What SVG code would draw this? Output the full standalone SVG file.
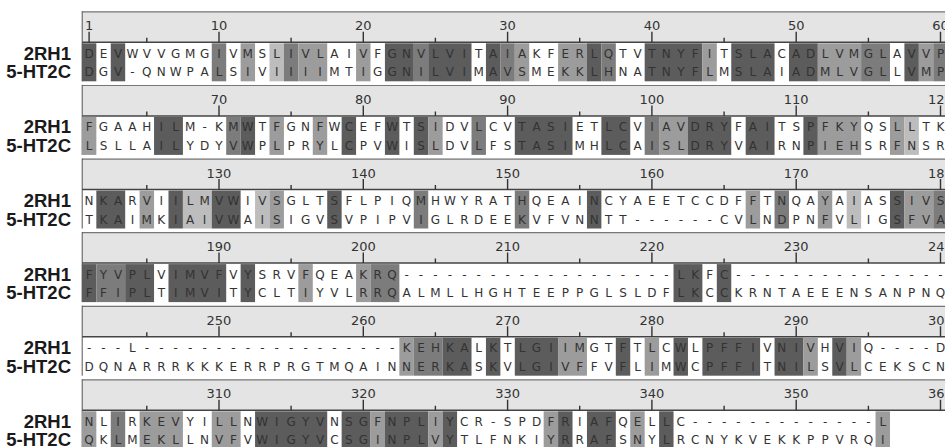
<svg xmlns="http://www.w3.org/2000/svg" xmlns:xlink="http://www.w3.org/1999/xlink" width="945" height="447" viewBox="0 0 945 447">
<style>
.rl{fill:#e4e4e4}
.rt{stroke:#777;stroke-width:1.2}
.rb{stroke:#444;stroke-width:1.5}
.fr{stroke:#555;stroke-width:1}
.tk{stroke:#333;stroke-width:1.4;fill:none}
.num{font-family:"DejaVu Sans",sans-serif;font-size:13px;fill:#333;text-anchor:middle}
.seq{font-family:"DejaVu Sans",sans-serif;font-size:12px;fill:#333;text-anchor:middle}
.lab{font-family:"Liberation Sans",Arial,sans-serif;font-size:18.5px;font-weight:bold;fill:#1a1a1a;text-anchor:end}
.d{fill:#5c5c5c}.m{fill:#7c7c7c}.g{fill:#9c9c9c}.l{fill:#bdbdbd}
</style>
<defs>
<g id="ruler">
<rect class="rl" x="82" y="0" width="863" height="31"/>
<line class="rt" x1="82" y1="0.6" x2="945" y2="0.6"/>
<line class="rb" x1="82" y1="31" x2="945" y2="31"/>
<line class="fr" x1="82.2" y1="0" x2="82.2" y2="70"/>
<path class="tk" d="M219,20.5V31M363.3,20.5V31M507.6,20.5V31M651.9,20.5V31M796.2,20.5V31M940.5,20.5V31M146.8,26.5V31M291.1,26.5V31M435.4,26.5V31M579.7,26.5V31M724.1,26.5V31M868.4,26.5V31"/>
<text class="lab" x="71" y="48.6">2RH1</text>
<text class="lab" x="71" y="67.1">5-HT2C</text>
</g>
</defs>

<g id="block1" transform="translate(0,11.3)">
<use xlink:href="#ruler"/>
<path class="tk" d="M89.1,20.5V31"/>
<g class="num"><text x="89.1" y="19">1</text><text x="219" y="19">10</text><text x="363.3" y="19">20</text><text x="507.6" y="19">30</text><text x="651.9" y="19">40</text><text x="796.2" y="19">50</text><text x="940.5" y="19">60</text></g>
<g transform="translate(0,32)">
<rect class="d" x="81.9" width="14.43" height="38"/>
<rect class="d" x="110.76" width="14.43" height="38"/>
<rect class="m" x="211.77" width="14.43" height="38"/>
<rect class="g" x="240.63" width="14.43" height="38"/>
<rect class="l" x="269.49" width="14.43" height="38"/>
<rect class="m" x="283.92" width="14.43" height="38"/>
<rect class="g" x="298.35" width="28.86" height="38"/>
<rect class="g" x="356.07" width="14.43" height="38"/>
<rect class="d" x="384.93" width="28.86" height="38"/>
<rect class="m" x="413.79" width="14.43" height="38"/>
<rect class="d" x="428.22" width="43.29" height="38"/>
<rect class="d" x="485.94" width="14.43" height="38"/>
<rect class="m" x="500.37" width="14.43" height="38"/>
<rect class="g" x="514.8" width="14.43" height="38"/>
<rect class="g" x="558.09" width="28.86" height="38"/>
<rect class="d" x="586.95" width="14.43" height="38"/>
<rect class="m" x="601.38" width="14.43" height="38"/>
<rect class="d" x="644.67" width="57.72" height="38"/>
<rect class="g" x="702.39" width="14.43" height="38"/>
<rect class="d" x="731.25" width="43.29" height="38"/>
<rect class="d" x="788.97" width="28.86" height="38"/>
<rect class="g" x="817.83" width="43.29" height="38"/>
<rect class="m" x="861.12" width="28.86" height="38"/>
<rect class="d" x="904.41" width="14.43" height="38"/>
<rect class="g" x="918.84" width="14.43" height="38"/>
<rect class="m" x="933.27" width="14.43" height="38"/>
</g>
<g class="seq">
<text y="46.6" x="89.1 103.5 118 132.4 146.8 161.3 175.7 190.1 204.6 219 233.4 247.8 262.3 276.7 291.1 305.6 320 334.4 348.9 363.3 377.7 392.1 406.6 421 435.4 449.9 464.3 478.7 493.2 507.6 522 536.5 550.9 565.3 579.7 594.2 608.6 623 637.5 651.9 666.3 680.8 695.2 709.6 724.1 738.5 752.9 767.3 781.8 796.2 810.6 825.1 839.5 853.9 868.4 882.8 897.2 911.7 926.1 940.5">DEVWVVGMGIVMSLIVLAIVFGNVLVITAIAKFERLQTVTNYFITSLACADLVMGLAVVP</text>
<text y="65.1" x="89.1 103.5 118 132.4 146.8 161.3 175.7 190.1 204.6 219 233.4 247.8 262.3 276.7 291.1 305.6 320 334.4 348.9 363.3 377.7 392.1 406.6 421 435.4 449.9 464.3 478.7 493.2 507.6 522 536.5 550.9 565.3 579.7 594.2 608.6 623 637.5 651.9 666.3 680.8 695.2 709.6 724.1 738.5 752.9 767.3 781.8 796.2 810.6 825.1 839.5 853.9 868.4 882.8 897.2 911.7 926.1 940.5">DGV-QNWPALSIVIIIIMTIGGNILVIMAVSMEKKLHNATNYFLMSLAIADMLVGLLVMP</text>
</g>
</g>

<g id="block2" transform="translate(0,84.9)">
<use xlink:href="#ruler"/>
<g class="num"><text x="219" y="19">70</text><text x="363.3" y="19">80</text><text x="507.6" y="19">90</text><text x="651.9" y="19">100</text><text x="796.2" y="19">110</text><text x="940.5" y="19">120</text></g>
<g transform="translate(0,32)">
<rect class="g" x="81.9" width="14.43" height="38"/>
<rect class="d" x="154.05" width="28.86" height="38"/>
<rect class="m" x="226.2" width="14.43" height="38"/>
<rect class="d" x="240.63" width="14.43" height="38"/>
<rect class="g" x="269.49" width="14.43" height="38"/>
<rect class="g" x="312.78" width="14.43" height="38"/>
<rect class="d" x="341.64" width="14.43" height="38"/>
<rect class="d" x="384.93" width="14.43" height="38"/>
<rect class="d" x="413.79" width="14.43" height="38"/>
<rect class="g" x="428.22" width="14.43" height="38"/>
<rect class="m" x="471.51" width="14.43" height="38"/>
<rect class="d" x="514.8" width="57.72" height="38"/>
<rect class="d" x="601.38" width="28.86" height="38"/>
<rect class="m" x="644.67" width="14.43" height="38"/>
<rect class="g" x="659.1" width="28.86" height="38"/>
<rect class="d" x="687.96" width="43.29" height="38"/>
<rect class="d" x="745.68" width="28.86" height="38"/>
<rect class="d" x="803.4" width="14.43" height="38"/>
<rect class="g" x="817.83" width="43.29" height="38"/>
<rect class="g" x="889.98" width="14.43" height="38"/>
<rect class="l" x="904.41" width="14.43" height="38"/>
</g>
<g class="seq">
<text y="46.6" x="89.1 103.5 118 132.4 146.8 161.3 175.7 190.1 204.6 219 233.4 247.8 262.3 276.7 291.1 305.6 320 334.4 348.9 363.3 377.7 392.1 406.6 421 435.4 449.9 464.3 478.7 493.2 507.6 522 536.5 550.9 565.3 579.7 594.2 608.6 623 637.5 651.9 666.3 680.8 695.2 709.6 724.1 738.5 752.9 767.3 781.8 796.2 810.6 825.1 839.5 853.9 868.4 882.8 897.2 911.7 926.1 940.5">FGAAHILM-KMWTFGNFWCEFWTSIDVLCVTASIETLCVIAVDRYFAITSPFKYQSLLTK</text>
<text y="65.1" x="89.1 103.5 118 132.4 146.8 161.3 175.7 190.1 204.6 219 233.4 247.8 262.3 276.7 291.1 305.6 320 334.4 348.9 363.3 377.7 392.1 406.6 421 435.4 449.9 464.3 478.7 493.2 507.6 522 536.5 550.9 565.3 579.7 594.2 608.6 623 637.5 651.9 666.3 680.8 695.2 709.6 724.1 738.5 752.9 767.3 781.8 796.2 810.6 825.1 839.5 853.9 868.4 882.8 897.2 911.7 926.1 940.5">LSLLAILYDYVWPLPRYLCPVWISLDVLFSTASIMHLCAISLDRYVAIRNPIEHSRFNSR</text>
</g>
</g>

<g id="block3" transform="translate(0,158.5)">
<use xlink:href="#ruler"/>
<g class="num"><text x="219" y="19">130</text><text x="363.3" y="19">140</text><text x="507.6" y="19">150</text><text x="651.9" y="19">160</text><text x="796.2" y="19">170</text><text x="940.5" y="19">180</text></g>
<g transform="translate(0,32)">
<rect class="d" x="96.33" width="28.86" height="38"/>
<rect class="g" x="139.62" width="14.43" height="38"/>
<rect class="d" x="168.48" width="14.43" height="38"/>
<rect class="l" x="182.91" width="28.86" height="38"/>
<rect class="d" x="211.77" width="28.86" height="38"/>
<rect class="l" x="255.06" width="14.43" height="38"/>
<rect class="g" x="269.49" width="14.43" height="38"/>
<rect class="d" x="327.21" width="14.43" height="38"/>
<rect class="m" x="413.79" width="14.43" height="38"/>
<rect class="m" x="514.8" width="14.43" height="38"/>
<rect class="d" x="586.95" width="14.43" height="38"/>
<rect class="g" x="745.68" width="14.43" height="38"/>
<rect class="m" x="774.54" width="14.43" height="38"/>
<rect class="g" x="817.83" width="14.43" height="38"/>
<rect class="l" x="846.69" width="14.43" height="38"/>
<rect class="d" x="889.98" width="14.43" height="38"/>
<rect class="g" x="904.41" width="28.86" height="38"/>
<rect class="m" x="933.27" width="14.43" height="38"/>
</g>
<g class="seq">
<text y="46.6" x="89.1 103.5 118 132.4 146.8 161.3 175.7 190.1 204.6 219 233.4 247.8 262.3 276.7 291.1 305.6 320 334.4 348.9 363.3 377.7 392.1 406.6 421 435.4 449.9 464.3 478.7 493.2 507.6 522 536.5 550.9 565.3 579.7 594.2 608.6 623 637.5 651.9 666.3 680.8 695.2 709.6 724.1 738.5 752.9 767.3 781.8 796.2 810.6 825.1 839.5 853.9 868.4 882.8 897.2 911.7 926.1 940.5">NKARVIILMVWIVSGLTSFLPIQMHWYRATHQEAINCYAEETCCDFFTNQAYAIASSIVS</text>
<text y="65.1" x="89.1 103.5 118 132.4 146.8 161.3 175.7 190.1 204.6 219 233.4 247.8 262.3 276.7 291.1 305.6 320 334.4 348.9 363.3 377.7 392.1 406.6 421 435.4 449.9 464.3 478.7 493.2 507.6 522 536.5 550.9 565.3 579.7 594.2 608.6 623 637.5 651.9 666.3 680.8 695.2 709.6 724.1 738.5 752.9 767.3 781.8 796.2 810.6 825.1 839.5 853.9 868.4 882.8 897.2 911.7 926.1 940.5">TKAIMKIAIVWAISIGVSVPIPVIGLRDEEKVFVNNTT------CVLNDPNFVLIGSFVA</text>
</g>
</g>

<g id="block4" transform="translate(0,232.1)">
<use xlink:href="#ruler"/>
<g class="num"><text x="219" y="19">190</text><text x="363.3" y="19">200</text><text x="507.6" y="19">210</text><text x="651.9" y="19">220</text><text x="796.2" y="19">230</text><text x="940.5" y="19">240</text></g>
<g transform="translate(0,32)">
<rect class="d" x="81.9" width="14.43" height="38"/>
<rect class="m" x="96.33" width="28.86" height="38"/>
<rect class="d" x="125.19" width="28.86" height="38"/>
<rect class="d" x="168.48" width="57.72" height="38"/>
<rect class="d" x="240.63" width="14.43" height="38"/>
<rect class="g" x="298.35" width="14.43" height="38"/>
<rect class="g" x="356.07" width="14.43" height="38"/>
<rect class="m" x="370.5" width="28.86" height="38"/>
<rect class="d" x="673.53" width="28.86" height="38"/>
<rect class="d" x="716.82" width="14.43" height="38"/>
</g>
<g class="seq">
<text y="46.6" x="89.1 103.5 118 132.4 146.8 161.3 175.7 190.1 204.6 219 233.4 247.8 262.3 276.7 291.1 305.6 320 334.4 348.9 363.3 377.7 392.1 406.6 421 435.4 449.9 464.3 478.7 493.2 507.6 522 536.5 550.9 565.3 579.7 594.2 608.6 623 637.5 651.9 666.3 680.8 695.2 709.6 724.1 738.5 752.9 767.3 781.8 796.2 810.6 825.1 839.5 853.9 868.4 882.8 897.2 911.7 926.1 940.5">FYVPLVIMVFVYSRVFQEAKRQ-------------------LKFC---------------</text>
<text y="65.1" x="89.1 103.5 118 132.4 146.8 161.3 175.7 190.1 204.6 219 233.4 247.8 262.3 276.7 291.1 305.6 320 334.4 348.9 363.3 377.7 392.1 406.6 421 435.4 449.9 464.3 478.7 493.2 507.6 522 536.5 550.9 565.3 579.7 594.2 608.6 623 637.5 651.9 666.3 680.8 695.2 709.6 724.1 738.5 752.9 767.3 781.8 796.2 810.6 825.1 839.5 853.9 868.4 882.8 897.2 911.7 926.1 940.5">FFIPLTIMVITYCLTIYVLRRQALMLLHGHTEEPPGLSLDFLKCCKRNTAEEENSANPNQ</text>
</g>
</g>

<g id="block5" transform="translate(0,305.7)">
<use xlink:href="#ruler"/>
<g class="num"><text x="219" y="19">250</text><text x="363.3" y="19">260</text><text x="507.6" y="19">270</text><text x="651.9" y="19">280</text><text x="796.2" y="19">290</text><text x="940.5" y="19">300</text></g>
<g transform="translate(0,32)">
<rect class="g" x="399.36" width="14.43" height="38"/>
<rect class="m" x="413.79" width="28.86" height="38"/>
<rect class="d" x="442.65" width="28.86" height="38"/>
<rect class="d" x="485.94" width="14.43" height="38"/>
<rect class="d" x="514.8" width="43.29" height="38"/>
<rect class="g" x="558.09" width="28.86" height="38"/>
<rect class="d" x="615.81" width="14.43" height="38"/>
<rect class="g" x="644.67" width="14.43" height="38"/>
<rect class="d" x="673.53" width="14.43" height="38"/>
<rect class="d" x="702.39" width="57.72" height="38"/>
<rect class="d" x="774.54" width="28.86" height="38"/>
<rect class="g" x="803.4" width="14.43" height="38"/>
<rect class="d" x="832.26" width="14.43" height="38"/>
<rect class="g" x="846.69" width="14.43" height="38"/>
</g>
<g class="seq">
<text y="46.6" x="89.1 103.5 118 132.4 146.8 161.3 175.7 190.1 204.6 219 233.4 247.8 262.3 276.7 291.1 305.6 320 334.4 348.9 363.3 377.7 392.1 406.6 421 435.4 449.9 464.3 478.7 493.2 507.6 522 536.5 550.9 565.3 579.7 594.2 608.6 623 637.5 651.9 666.3 680.8 695.2 709.6 724.1 738.5 752.9 767.3 781.8 796.2 810.6 825.1 839.5 853.9 868.4 882.8 897.2 911.7 926.1 940.5">---L------------------KEHKALKTLGIIMGTFTLCWLPFFIVNIVHVIQ----D</text>
<text y="65.1" x="89.1 103.5 118 132.4 146.8 161.3 175.7 190.1 204.6 219 233.4 247.8 262.3 276.7 291.1 305.6 320 334.4 348.9 363.3 377.7 392.1 406.6 421 435.4 449.9 464.3 478.7 493.2 507.6 522 536.5 550.9 565.3 579.7 594.2 608.6 623 637.5 651.9 666.3 680.8 695.2 709.6 724.1 738.5 752.9 767.3 781.8 796.2 810.6 825.1 839.5 853.9 868.4 882.8 897.2 911.7 926.1 940.5">DQNARRRKKKERRPRGTMQAINNERKASKVLGIVFFVFLIMWCPFFITNILSVLCEKSCN</text>
</g>
</g>

<g id="block6" transform="translate(0,379.3)">
<use xlink:href="#ruler"/>
<g class="num"><text x="219" y="19">310</text><text x="363.3" y="19">320</text><text x="507.6" y="19">330</text><text x="651.9" y="19">340</text><text x="796.2" y="19">350</text><text x="940.5" y="19">360</text></g>
<g transform="translate(0,32)">
<rect class="g" x="81.9" width="14.43" height="38"/>
<rect class="m" x="110.76" width="14.43" height="38"/>
<rect class="g" x="139.62" width="43.29" height="38"/>
<rect class="g" x="211.77" width="28.86" height="38"/>
<rect class="d" x="255.06" width="72.15" height="38"/>
<rect class="d" x="341.64" width="28.86" height="38"/>
<rect class="g" x="370.5" width="14.43" height="38"/>
<rect class="d" x="384.93" width="43.29" height="38"/>
<rect class="g" x="428.22" width="14.43" height="38"/>
<rect class="d" x="442.65" width="14.43" height="38"/>
<rect class="g" x="543.66" width="14.43" height="38"/>
<rect class="d" x="558.09" width="14.43" height="38"/>
<rect class="d" x="586.95" width="28.86" height="38"/>
<rect class="g" x="630.24" width="14.43" height="38"/>
<rect class="d" x="659.1" width="14.43" height="38"/>
<rect class="g" x="875.55" width="14.43" height="38"/>
</g>
<g class="seq">
<text y="46.6" x="89.1 103.5 118 132.4 146.8 161.3 175.7 190.1 204.6 219 233.4 247.8 262.3 276.7 291.1 305.6 320 334.4 348.9 363.3 377.7 392.1 406.6 421 435.4 449.9 464.3 478.7 493.2 507.6 522 536.5 550.9 565.3 579.7 594.2 608.6 623 637.5 651.9 666.3 680.8 695.2 709.6 724.1 738.5 752.9 767.3 781.8 796.2 810.6 825.1 839.5 853.9 868.4 882.8 897.2 911.7 926.1 940.5">NLIRKEVYILLNWIGYVNSGFNPLIYCR-SPDFRIAFQELLC-------------L</text>
<text y="65.1" x="89.1 103.5 118 132.4 146.8 161.3 175.7 190.1 204.6 219 233.4 247.8 262.3 276.7 291.1 305.6 320 334.4 348.9 363.3 377.7 392.1 406.6 421 435.4 449.9 464.3 478.7 493.2 507.6 522 536.5 550.9 565.3 579.7 594.2 608.6 623 637.5 651.9 666.3 680.8 695.2 709.6 724.1 738.5 752.9 767.3 781.8 796.2 810.6 825.1 839.5 853.9 868.4 882.8 897.2 911.7 926.1 940.5">QKLMEKLLNVFVWIGYVCSGINPLVYTLFNKIYRRAFSNYLRCNYKVEKKPPVRQI</text>
</g>
</g>
</svg>
